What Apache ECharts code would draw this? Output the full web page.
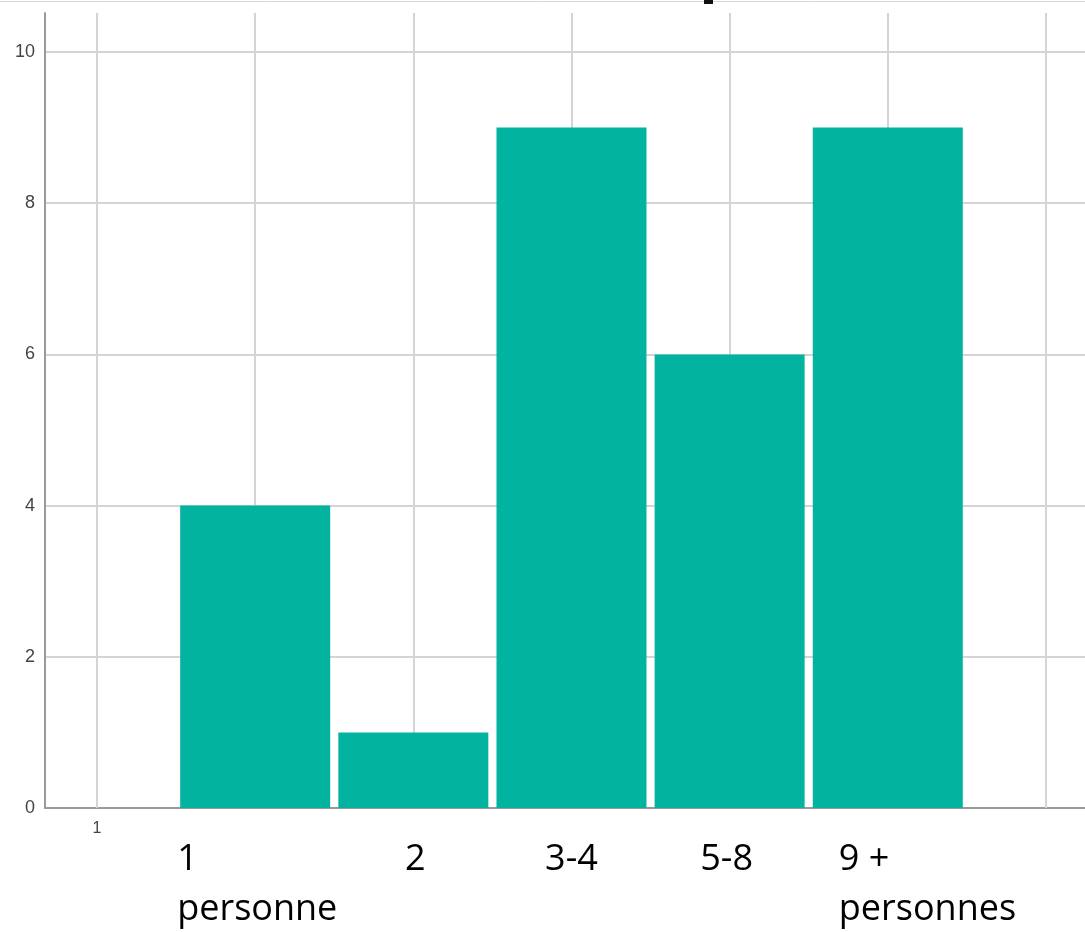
<!DOCTYPE html>
<html>
<head>
<meta charset="utf-8">
<script src="https://cdn.jsdelivr.net/npm/echarts@6/dist/echarts.min.js"></script>
<style>
html,body{margin:0;padding:0;background:#fff;}
#c{width:1085px;height:932px;}
</style>
</head>
<body>
<div id="c"></div>
<script>
// Data
const categories = ['1\npersonne', '2', '3-4', '5-8', '9 +\npersonnes'];
const categoryPositions = [2, 3, 4, 5, 6];
const counts = [4, 1, 9, 6, 9];
const yTicks = [0, 2, 4, 6, 8, 10];
const xGridValues = [1, 2, 3, 4, 5, 6, 7];
const xTickLabels = [1];

const chart = echarts.init(document.getElementById('c'));
const gridColor = '#d4d4d4';
const axisColor = '#9a9a9a';

chart.setOption({
  animation: false,
  grid: { left: 45, right: 0, top: 13, bottom: 124 },
  xAxis: {
    type: 'value',
    min: 0.671,
    max: 7.247,
    axisLine: { show: true, lineStyle: { color: axisColor, width: 2 } },
    axisTick: { show: false },
    splitLine: { show: false },
    axisLabel: {
      customValues: xTickLabels,
      color: '#444',
      fontFamily: 'Liberation Sans',
      fontSize: 16,
      margin: 13
    }
  },
  yAxis: {
    type: 'value',
    min: 0,
    max: 10.516,
    interval: 2,
    axisLine: { show: true, lineStyle: { color: axisColor, width: 2 } },
    axisTick: { show: false },
    splitLine: { show: true, showMaxLine: false, showMinLine: false, lineStyle: { color: gridColor, width: 2 } },
    axisLabel: {
      showMaxLabel: false,
      color: '#444',
      fontFamily: 'Liberation Sans',
      fontSize: 18,
      margin: 10,
      formatter: v => (yTicks.indexOf(v) >= 0 ? String(v) : '')
    }
  },
  series: [
    {
      type: 'line',
      data: [],
      z: 1,
      zlevel: 0,
      silent: true,
      markLine: {
        silent: true,
        z: 1,
        zlevel: 0,
        symbol: 'none',
        label: { show: false },
        lineStyle: { color: gridColor, width: 2, type: 'solid' },
        data: xGridValues.map(v => ({ xAxis: v }))
      }
    },
    {
      type: 'bar',
      z: 5,
      zlevel: 1,
      barWidth: 150,
      itemStyle: { color: '#02b39f' },
      data: categoryPositions.map((p, i) => [p, counts[i]])
    }
  ]
});

// Category captions placed under the bars via the chart's own scale
const anchors = [
  { dx: -78, align: 'left' },
  { dx: 2, align: 'center' },
  { dx: 0, align: 'center' },
  { dx: -3, align: 'center' },
  { dx: -49, align: 'left' }
];
const baseY = chart.convertToPixel({ yAxisIndex: 0 }, 0);
const texts = categories.map((name, i) => {
  const px = chart.convertToPixel({ xAxisIndex: 0 }, categoryPositions[i]);
  return {
    type: 'text',
    x: px + anchors[i].dx,
    y: baseY + 27,
    style: {
      text: name,
      fill: '#000',
      font: '36px "Open Sans"',
      lineHeight: 50,
      align: anchors[i].align,
      verticalAlign: 'top'
    }
  };
});
texts.push({ type: 'line', shape: { x1: 0, y1: 1.5, x2: 1085, y2: 1.5 }, style: { stroke: '#d8d8d8', lineWidth: 1 } });
texts.push({ type: 'rect', shape: { x: 704, y: 0, width: 9, height: 4 }, style: { fill: '#111' } });
chart.setOption({ graphic: texts });
</script>
</body>
</html>
